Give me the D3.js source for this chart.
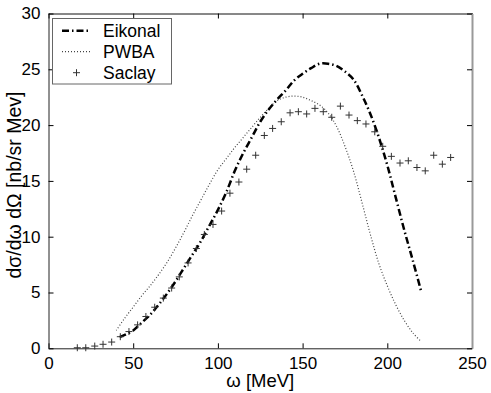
<!DOCTYPE html>
<html>
<head>
<meta charset="utf-8">
<script src="https://cdn.jsdelivr.net/npm/d3@7/dist/d3.min.js"></script>
<style>
  body { margin: 0; background: #fff; }
  svg text { font-family: "Liberation Sans", Arial, sans-serif; }
</style>
</head>
<body>
<div id="chart"></div>
<script>
// ---- data ----
var xTicks = [0, 50, 100, 150, 200, 250];
var yTicks = [0, 5, 10, 15, 20, 25, 30];

// Eikonal (dash-dot)
var eikW = [42, 45, 50, 55, 60, 65, 70, 75, 80, 85, 90, 95, 100, 105, 110, 115, 120, 125, 130,
            135, 140, 145, 150, 155, 160, 165, 170, 175, 180, 185, 190, 195, 200, 205, 210, 215, 220];
var eikY = [1.0, 1.2, 1.6, 2.3, 3.0, 3.9, 4.9, 6.0, 7.2, 8.4, 9.6, 11.0, 12.4, 14.0, 15.9, 17.5, 18.9, 20.3, 21.4,
            22.3, 23.1, 24.0, 24.6, 25.1, 25.5, 25.5, 25.3, 24.8, 24.1, 22.7, 21.0, 18.9, 16.4, 13.5, 10.6, 7.9, 5.1];

// PWBA (dotted)
var pwbaW = [40, 45, 50, 55, 60, 65, 70, 75, 80, 85, 90, 95, 100, 105, 110, 115, 120, 125, 130,
             135, 140, 145, 150, 155, 160, 165, 170, 175, 180, 185, 190, 195, 200, 205, 210, 215, 220];
var pwbaY = [1.6, 2.7, 3.7, 4.7, 5.6, 6.6, 7.7, 9.0, 10.4, 11.9, 13.3, 14.7, 16.0, 17.0, 18.0, 18.9, 19.8, 20.7, 21.5,
             22.2, 22.5, 22.6, 22.5, 22.2, 21.8, 21.1, 19.9, 18.1, 15.9, 13.1, 10.2, 7.6, 5.6, 3.9, 2.5, 1.4, 0.6];

// Saclay data (+ markers)
var sacW = [17, 22, 27.3, 32.2, 37.3, 42.4, 47.5, 52.6, 57.5, 62.7, 67.8, 72.7, 77.2, 82.4, 87.3, 92, 97.1,
            102.2, 107.1, 112.4, 117, 122.3, 127.4, 132.3, 137.4, 142.6, 147.5, 152.4, 157.3, 162.2, 167.2,
            172.3, 177.4, 182.3, 187.4, 192.6, 197.3, 202.4, 207.5, 212.4, 217.5, 222.4, 227.4, 232.5, 237.4];
var sacY = [0.05, 0.05, 0.2, 0.36, 0.56, 1.04, 1.5, 2.1, 2.85, 3.68, 4.5, 5.4, 6.4, 7.65, 8.94, 10.2, 11.1,
            12.3, 13.9, 14.9, 16.05, 17.3, 19.07, 19.7, 20.3, 21.1, 21.2, 21.0, 21.5, 21.2, 20.7,
            21.7, 20.9, 20.4, 20.1, 19.4, 18.1, 17.2, 16.6, 16.8, 16.2, 15.9, 17.3, 16.5, 17.1];

var seriesNames = ["Eikonal", "PWBA", "Saclay"];

// ---- layout ----
var width = 491, height = 393;
var padL = 48.5, padR = 472, padT = 13.5, padB = 348.3;

var svg = d3.select("#chart").append("svg")
    .attr("width", width)
    .attr("height", height);

var x = d3.scaleLinear().domain([0, 250]).range([padL, padR]);
var y = d3.scaleLinear().domain([0, 30]).range([padB, padT]);

// axes box (ticks inward, mirrored)
svg.append("g")
    .attr("transform", "translate(0," + padB + ")")
    .call(d3.axisBottom(x).tickValues(xTicks).tickSize(-5).tickPadding(8).tickSizeOuter(0))
    .call(function(g) {
        g.select(".domain").attr("stroke", "#222");
        g.selectAll("text").attr("font-size", "17px").attr("fill", "#000").attr("dy", "0.75em");
    });
svg.append("g")
    .attr("transform", "translate(0," + padT + ")")
    .call(d3.axisTop(x).tickValues(xTicks).tickSize(-5).tickFormat("").tickSizeOuter(0))
    .call(function(g) { g.select(".domain").attr("stroke", "#111"); });
svg.append("g")
    .attr("transform", "translate(" + padL + ",0)")
    .call(d3.axisLeft(y).tickValues(yTicks).tickSize(-5).tickPadding(8).tickSizeOuter(0))
    .call(function(g) {
        g.select(".domain").attr("stroke", "#222");
        g.selectAll("text").attr("font-size", "17px").attr("fill", "#000");
    });
svg.append("g")
    .attr("transform", "translate(" + padR + ",0)")
    .call(d3.axisRight(y).tickValues(yTicks).tickSize(-5).tickFormat("").tickSizeOuter(0))
    .call(function(g) { g.select(".domain").attr("stroke", "#999").attr("stroke-width", 2); });

// axis labels
svg.append("text")
    .attr("x", (padL + padR) / 2)
    .attr("y", 387)
    .attr("text-anchor", "middle")
    .attr("font-size", "18.5px")
    .text("ω [MeV]");

svg.append("text")
    .attr("transform", "translate(21,185) rotate(-90)")
    .attr("text-anchor", "middle")
    .attr("font-size", "19.5px")
    .text("dσ/dω dΩ [nb/sr Mev]");

// curves
var line = d3.line()
    .x(function(d) { return x(d[0]); })
    .y(function(d) { return y(d[1]); })
    .curve(d3.curveCatmullRom);

svg.append("path")
    .datum(d3.zip(pwbaW, pwbaY))
    .attr("fill", "none")
    .attr("stroke", "#444")
    .attr("stroke-width", 1.2)
    .attr("stroke-dasharray", "1,2")
    .attr("d", line);

svg.append("path")
    .datum(d3.zip(eikW, eikY))
    .attr("fill", "none")
    .attr("stroke", "#000")
    .attr("stroke-width", 2.5)
    .attr("stroke-dasharray", "7,3,1.5,3")
    .attr("d", line);

svg.append("g").selectAll("path")
    .data(d3.zip(sacW, sacY))
    .enter()
    .append("path")
    .attr("transform", function(d) { return "translate(" + x(d[0]) + "," + y(d[1]) + ")"; })
    .attr("d", "M-3.5,0H3.5M0,-3.5V3.5")
    .attr("stroke", "#333")
    .attr("stroke-width", 1);

// legend
var lg = svg.append("g");
lg.append("rect")
    .attr("x", 52.5).attr("y", 18.5)
    .attr("width", 119).attr("height", 65.5)
    .attr("fill", "#fff")
    .attr("stroke", "#666");

var rows = [30.7, 51.7, 72.7];
lg.append("line")
    .attr("x1", 62).attr("x2", 90).attr("y1", rows[0]).attr("y2", rows[0])
    .attr("stroke", "#000").attr("stroke-width", 2.5).attr("stroke-dasharray", "7,3,1.5,3");
lg.append("line")
    .attr("x1", 62).attr("x2", 90).attr("y1", rows[1]).attr("y2", rows[1])
    .attr("stroke", "#444").attr("stroke-width", 1.2).attr("stroke-dasharray", "1,2");
lg.append("path")
    .attr("d", "M73,72.7H80M76.5,69.2V76.2")
    .attr("stroke", "#333").attr("stroke-width", 1);

lg.selectAll("text.lab")
    .data(seriesNames)
    .enter()
    .append("text")
    .attr("class", "lab")
    .attr("x", 103)
    .attr("y", function(d, i) { return rows[i]; })
    .attr("dy", "0.36em")
    .attr("font-size", "17.5px")
    .text(function(d) { return d; });
</script>
</body>
</html>
